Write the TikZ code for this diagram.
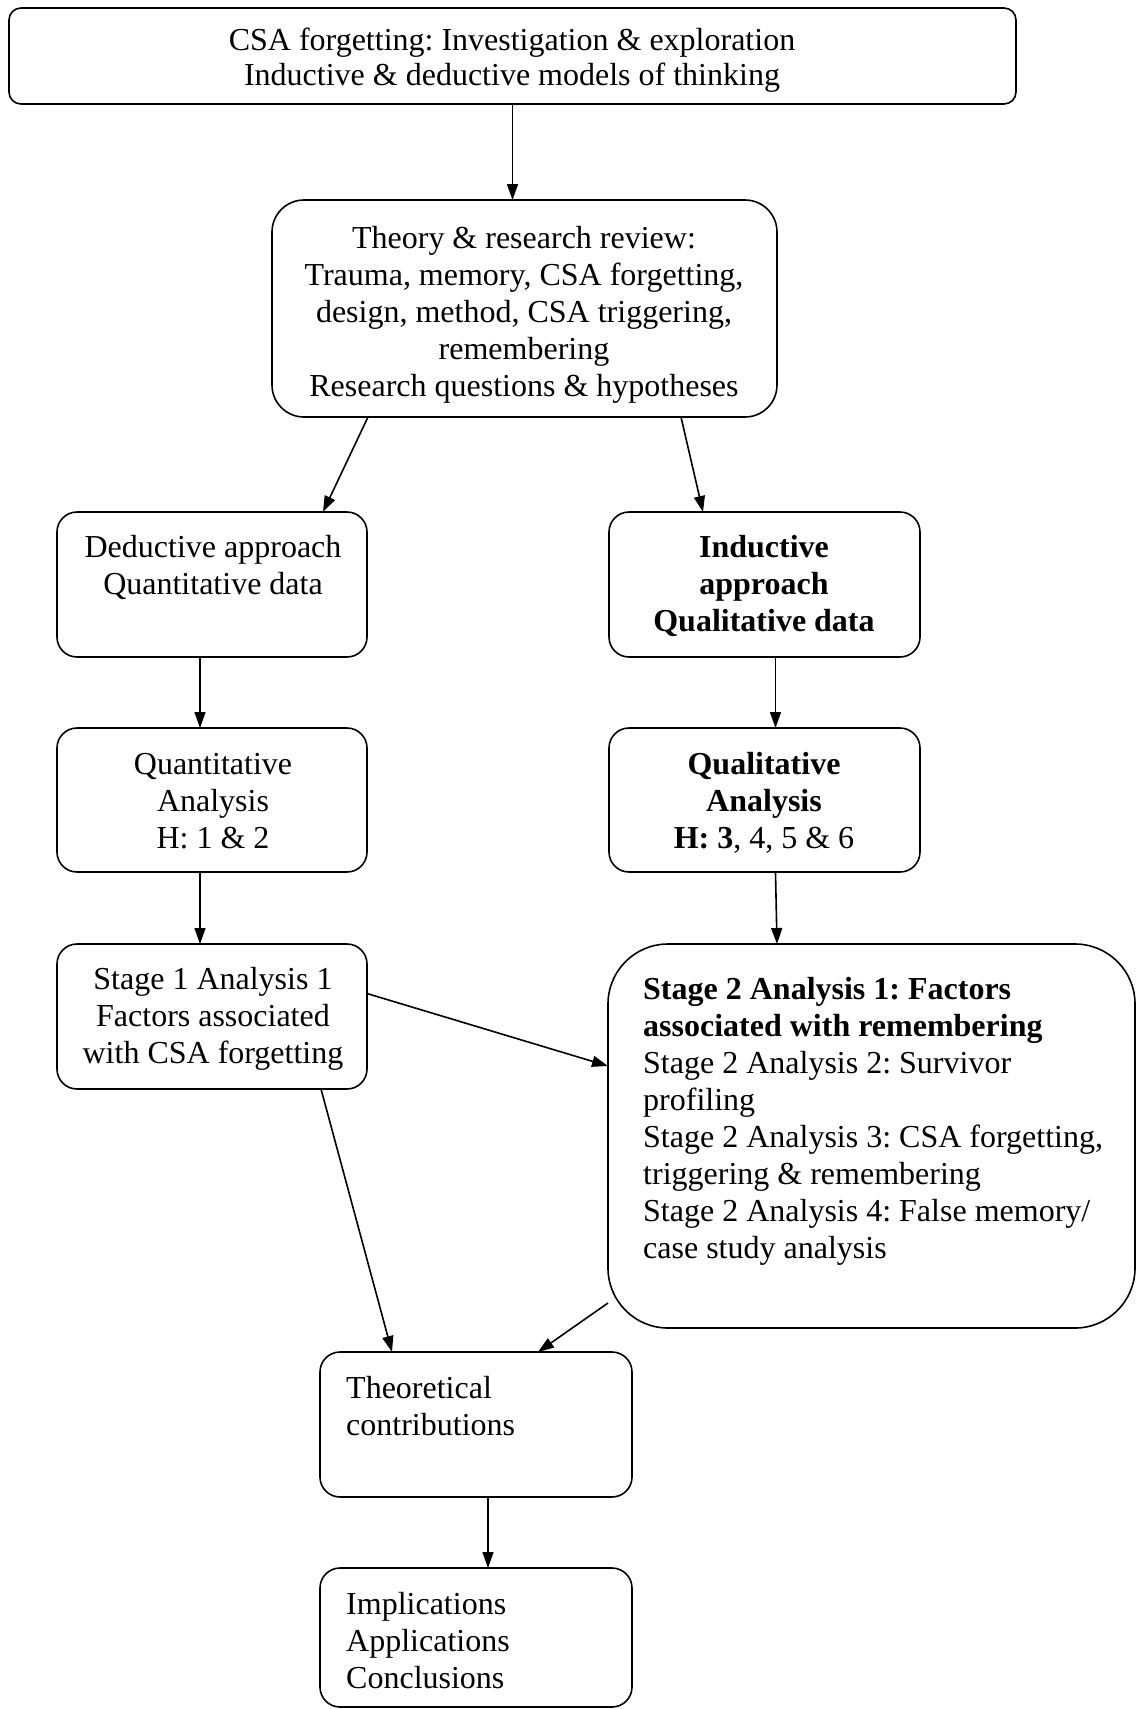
\documentclass[tikz,border=0pt]{standalone}
\usepackage{fontspec}
\setmainfont{Liberation Serif}
\usetikzlibrary{arrows.meta,calc}
\frenchspacing
\begin{document}
\begin{tikzpicture}[x=1pt,y=-1pt,
  box/.style={draw,line width=1.6pt,inner sep=0pt,outer sep=0pt,rounded corners=#1},
  box/.default=20pt,
  txt/.style={inner sep=0pt,align=center,font=\fontsize{32}{37}\selectfont},
  ltxt/.style={inner sep=0pt,align=left,font=\fontsize{32}{37}\selectfont},
  arr/.style={line width=1.6pt,-{Triangle[length=16pt,width=11pt]}}]
\useasboundingbox (0,0) rectangle (1137,1709);
% boxes
\node[box=12pt,minimum width=1007pt,minimum height=96pt] (top) at (512.5,56) {};
\node[box=32pt,minimum width=505pt,minimum height=217pt] (theory) at (524.5,308.5) {};
\node[box,minimum width=310pt,minimum height=145pt] (ded) at (212,584.5) {};
\node[box,minimum width=311pt,minimum height=145pt] (ind) at (764.5,584.5) {};
\node[box,minimum width=310pt,minimum height=144pt] (quant) at (212,800) {};
\node[box,minimum width=311pt,minimum height=144pt] (qual) at (764.5,800) {};
\node[box,minimum width=310pt,minimum height=145pt] (s1) at (212,1016.5) {};
\node[box=60pt,minimum width=527pt,minimum height=384pt] (s2) at (871.5,1136) {};
\node[box,minimum width=312pt,minimum height=145pt] (theo) at (476,1424.5) {};
\node[box,minimum width=312pt,minimum height=139pt] (impl) at (476,1637.5) {};
% texts
\node[txt,anchor=north,font=\fontsize{32}{35}\selectfont] (ttop) at (512,26) {\strut CSA forgetting: Investigation \& exploration\\Inductive \& deductive models of thinking};
\node[txt,anchor=north] (ttheory) at (524,222) {\strut Theory \& research review:\\Trauma, memory, CSA forgetting,\\design, method, CSA triggering,\\remembering\\Research questions \& hypotheses};
\node[txt,anchor=north] (tded) at (213,531) {\strut Deductive approach\\Quantitative data};
\node[txt,anchor=north] (tind) at (764,531) {\strut\bfseries Inductive\\\bfseries approach\\\bfseries Qualitative data};
\node[txt,anchor=north] (tquant) at (213,748) {\strut Quantitative\\Analysis\\H: 1 \& 2};
\node[txt,anchor=north] (tqual) at (764,748) {\strut\bfseries Qualitative\\\bfseries Analysis\\\textbf{H: 3}, 4, 5 \& 6};
\node[txt,anchor=north] (ts1) at (213,963) {\strut Stage 1 Analysis 1\\Factors associated\\with CSA forgetting};
\node[ltxt,anchor=north west] (ts2) at (643,973) {\strut\bfseries Stage 2 Analysis 1: Factors\\\bfseries associated with remembering\\Stage 2 Analysis 2: Survivor\\profiling\\Stage 2 Analysis 3: CSA forgetting,\\triggering \& remembering\\Stage 2 Analysis 4: False memory/\\case study analysis};
\node[ltxt,anchor=north west] (ttheo) at (346,1372) {\strut Theoretical\\contributions};
\node[ltxt,anchor=north west] (timpl) at (346,1588) {\strut Implications\\Applications\\Conclusions};
% connectors
\draw[arr] (top.south) -- (top.south |- theory.north);
\draw[arr] ($(theory.south)+(-156.5,0)$) -- ($(ded.north)+(111,0)$);
\draw[arr] ($(theory.south)+(156.5,0)$) -- ($(ind.north)+(-61.5,0)$);
\draw[arr] ($(ded.south)+(-12,0)$) -- ($(quant.north)+(-12,0)$);
\draw[arr] ($(ind.south)+(11,0)$) -- ($(qual.north)+(11,0)$);
\draw[arr] ($(quant.south)+(-12,0)$) -- ($(s1.north)+(-12,0)$);
\draw[arr] ($(qual.south)+(11,0)$) -- ($(s2.north west)+(169,0)$);
\draw[arr] ($(s1.east)+(0,-23)$) -- ($(s2.west)+(0,-70)$);
\draw[arr] ($(s1.south)+(109,0)$) -- ($(theo.north)+(-84,0)$);
\draw[arr] ($(s2.west)+(0,167)$) -- ($(theo.north)+(62,0)$);
\draw[arr] ($(theo.south)+(12,0)$) -- ($(impl.north)+(12,0)$);
\end{tikzpicture}
\end{document}
